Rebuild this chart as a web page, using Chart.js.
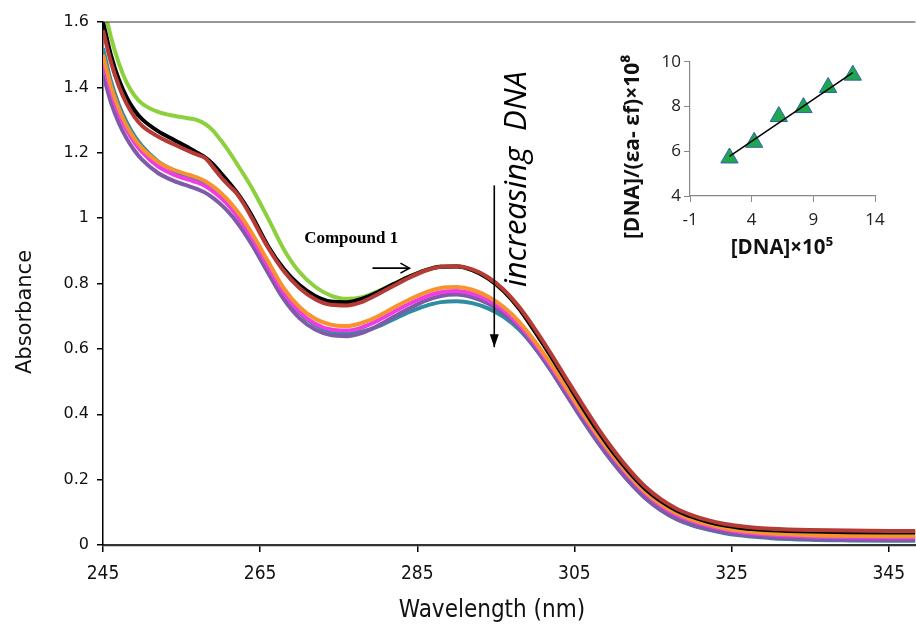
<!DOCTYPE html>
<html><head><meta charset="utf-8">
<script src="https://cdn.jsdelivr.net/npm/chart.js@4.4.0/dist/chart.umd.min.js"></script>
<style>
html,body{margin:0;padding:0;background:#fff;}
#wrap{position:relative;width:916px;height:624px;overflow:hidden;background:#fff;}
#main{position:absolute;left:0;top:0;}
#inset{position:absolute;left:600px;top:30px;}
</style></head><body>
<div id="wrap"><canvas id="main" width="916" height="624"></canvas><canvas id="inset" width="300" height="240"></canvas></div>
<script>
// ---------- DATA ----------
const wavelengths = [245,246,247,248,249,250,252,254,256,257,258,259,260,261,262,263,264,266,268,270,272,274,276,278,280,282,284,286,288,290,292,294,296,298,300,302,304,306,308,310,312,314,316,318,320,322,324,326,328,330,335,340,345,348.4];

const greenAbs  = [1.660,1.555,1.475,1.415,1.375,1.350,1.325,1.313,1.305,1.300,1.288,1.268,1.238,1.205,1.168,1.130,1.090,1.000,0.905,0.835,0.790,0.763,0.753,0.758,0.776,0.799,0.822,0.841,0.852,0.853,0.841,0.816,0.777,0.722,0.652,0.578,0.500,0.422,0.348,0.281,0.222,0.172,0.134,0.106,0.086,0.071,0.060,0.053,0.048,0.045,0.041,0.039,0.038,0.038];
const blackAbs  = [1.600,1.500,1.425,1.370,1.330,1.302,1.266,1.240,1.214,1.200,1.186,1.165,1.138,1.110,1.080,1.045,1.005,0.915,0.845,0.795,0.762,0.745,0.743,0.754,0.774,0.798,0.821,0.840,0.851,0.852,0.841,0.816,0.777,0.722,0.652,0.578,0.500,0.422,0.348,0.281,0.222,0.172,0.134,0.106,0.086,0.071,0.060,0.053,0.048,0.045,0.041,0.039,0.038,0.038];
const redAbs    = [1.575,1.478,1.405,1.350,1.310,1.282,1.250,1.226,1.204,1.194,1.184,1.156,1.126,1.100,1.076,1.040,0.998,0.910,0.838,0.786,0.752,0.735,0.733,0.744,0.767,0.793,0.818,0.839,0.851,0.853,0.843,0.819,0.781,0.727,0.660,0.586,0.508,0.431,0.357,0.290,0.230,0.179,0.140,0.111,0.091,0.076,0.065,0.058,0.053,0.050,0.046,0.044,0.043,0.043];
const tealAbs   = [1.520,1.420,1.348,1.294,1.252,1.220,1.174,1.146,1.126,1.116,1.104,1.087,1.066,1.041,1.011,0.976,0.937,0.852,0.770,0.710,0.673,0.653,0.647,0.653,0.669,0.691,0.713,0.731,0.743,0.746,0.740,0.724,0.698,0.658,0.602,0.534,0.459,0.384,0.314,0.250,0.193,0.144,0.107,0.079,0.060,0.047,0.037,0.030,0.025,0.021,0.016,0.014,0.013,0.013];
const orangeAbs = [1.500,1.405,1.335,1.283,1.243,1.213,1.172,1.148,1.132,1.124,1.113,1.097,1.077,1.053,1.024,0.990,0.952,0.868,0.786,0.728,0.692,0.674,0.670,0.680,0.700,0.726,0.751,0.772,0.786,0.789,0.781,0.760,0.728,0.682,0.622,0.554,0.480,0.405,0.335,0.271,0.213,0.163,0.125,0.097,0.077,0.063,0.052,0.044,0.039,0.035,0.030,0.028,0.027,0.027];
const pinkAbs   = [1.480,1.388,1.320,1.270,1.231,1.201,1.158,1.133,1.117,1.109,1.098,1.082,1.062,1.038,1.009,0.975,0.937,0.853,0.771,0.713,0.677,0.659,0.656,0.666,0.687,0.713,0.738,0.759,0.773,0.777,0.769,0.749,0.718,0.673,0.615,0.547,0.474,0.400,0.330,0.266,0.208,0.158,0.120,0.092,0.073,0.059,0.048,0.040,0.035,0.031,0.026,0.024,0.023,0.023];
const purpleAbs = [1.440,1.355,1.292,1.244,1.207,1.178,1.138,1.114,1.097,1.089,1.078,1.062,1.042,1.018,0.989,0.955,0.917,0.833,0.752,0.694,0.659,0.642,0.639,0.649,0.671,0.698,0.724,0.747,0.762,0.766,0.758,0.739,0.708,0.664,0.604,0.535,0.459,0.384,0.313,0.249,0.192,0.144,0.107,0.080,0.062,0.049,0.039,0.032,0.027,0.023,0.018,0.016,0.015,0.015];

const xTicks = [245,265,285,305,325,345];
const yTicks = [0,0.2,0.4,0.6,0.8,1,1.2,1.4,1.6];
const yTickLabels = ['0','0.2','0.4','0.6','0.8','1','1.2','1.4','1.6'];

// inset
const insetX = [2.2,4.2,6.2,8.2,10.2,12.2];
const insetY = [5.7,6.4,7.55,7.95,8.85,9.4];
const insetXTicks = [-1,4,9,14];
const insetYTicks = [4,6,8,10];

// ---------- helpers ----------
const toPts = arr => wavelengths.map((w,i)=>({x:w,y:arr[i]}));
const condensed = "'DejaVu Sans Condensed','DejaVu Sans',sans-serif";

const overlay = {
  id:'overlay',
  afterDraw(chart, args, opts){
    const ctx = chart.ctx;
    const sx = chart.scales.x, sy = chart.scales.y;
    const px = p => p.data ? [sx.getPixelForValue(p.x), sy.getPixelForValue(p.y)] : [p.x, p.y];
    if (opts.topBorder){
      const a = chart.chartArea;
      ctx.save(); ctx.strokeStyle=opts.topBorder.color; ctx.lineWidth=opts.topBorder.width;
      ctx.beginPath(); ctx.moveTo(a.left, a.top); ctx.lineTo(a.right, a.top); ctx.stroke(); ctx.restore();
    }
    (opts.arrows||[]).forEach(a=>{
      const [x1,y1] = px(a.from), [x2,y2] = px(a.to);
      ctx.save();
      ctx.strokeStyle='#000'; ctx.fillStyle='#000'; ctx.lineWidth=a.width||1.5;
      ctx.beginPath(); ctx.moveTo(x1,y1); ctx.lineTo(x2,y2); ctx.stroke();
      const ang = Math.atan2(y2-y1,x2-x1), L=a.head||10, W=a.headW||5;
      const bx = x2 - L*Math.cos(ang), by = y2 - L*Math.sin(ang);
      const nx = -Math.sin(ang)*W, ny = Math.cos(ang)*W;
      ctx.beginPath();
      if (a.filled){
        ctx.moveTo(x2,y2); ctx.lineTo(bx+nx,by+ny); ctx.lineTo(bx-nx,by-ny); ctx.closePath(); ctx.fill();
      } else {
        ctx.moveTo(bx+nx,by+ny); ctx.lineTo(x2,y2); ctx.lineTo(bx-nx,by-ny); ctx.stroke();
      }
      ctx.restore();
    });
    (opts.texts||[]).forEach(t=>{
      const [x,y] = px(t);
      ctx.save();
      ctx.font=t.font; ctx.fillStyle=t.color||'#000';
      ctx.textAlign=t.align||'center'; ctx.textBaseline=t.baseline||'middle';
      ctx.translate(x,y); if(t.rot) ctx.rotate(t.rot);
      ctx.fillText(t.text,0,0);
      ctx.restore();
    });
  }
};

const series = [
  {label:'red',    data:redAbs,    color:'#B63B36', order:1},
  {label:'black',  data:blackAbs,  color:'#000000', order:2},
  {label:'green',  data:greenAbs,  color:'#8DD03E', order:3},
  {label:'orange', data:orangeAbs, color:'#F7922F', order:4},
  {label:'pink',   data:pinkAbs,   color:'#F03CE4', order:5},
  {label:'purple', data:purpleAbs, color:'#7E5BA8', order:6},
  {label:'teal',   data:tealAbs,   color:'#2E8DA0', order:7}
];

new Chart(document.getElementById('main'), {
  type:'line',
  data:{datasets: series.map(s=>({label:s.label, data:toPts(s.data), borderColor:s.color, backgroundColor:s.color, order:s.order, borderWidth:4, pointRadius:0, fill:false, cubicInterpolationMode:'monotone'}))},
  options:{
    responsive:false, animation:false, devicePixelRatio:1,
    layout:{padding:{top:22,right:0,left:0,bottom:0}},
    plugins:{legend:{display:false}, tooltip:{enabled:false},
      overlay:{
        topBorder:{color:'#333', width:1.2},
        texts:[
          {data:true, x:270.6, y:0.936, text:'Compound 1', font:"bold 17px 'Liberation Serif','Times New Roman',serif", align:'left'},
          {data:true, x:298.9, y:0.789, text:'increasing  DNA', font:"italic 31px 'Open Sans',sans-serif", align:'left', baseline:'alphabetic', rot:-Math.PI/2},
          {x:26, y:312, text:'Absorbance', font:"21px 'DejaVu Sans',sans-serif", rot:-Math.PI/2, color:'#111'},
          {x:492, y:611, text:'Wavelength (nm)', font:"24px "+condensed, color:'#111'}
        ],
        arrows:[
          {from:{data:true,x:279.3,y:0.847}, to:{data:true,x:284.0,y:0.847}, width:1.6, head:9, headW:5},
          {from:{data:true,x:294.8,y:1.10}, to:{data:true,x:294.8,y:0.605}, width:1.6, head:13, headW:4.5, filled:true}
        ]
      }
    },
    scales:{
      x:{type:'linear', min:245, max:348.4,
        afterBuildTicks:s=>{s.ticks = xTicks.map(v=>({value:v}));},
        afterFit:s=>{s.height=79;},
        grid:{drawOnChartArea:false, drawTicks:true, tickLength:7, color:'#000', lineWidth:1.5},
        border:{display:true, color:'#333', width:2.2},
        ticks:{padding:11, color:'#111', autoSkip:false, maxRotation:0, font:{family:condensed, size:19}},
        title:{display:false}
      },
      y:{type:'linear', min:0, max:1.6,
        afterBuildTicks:s=>{s.ticks = yTicks.map(v=>({value:v}));},
        afterFit:s=>{s.width=103;},
        grid:{drawOnChartArea:false, drawTicks:true, tickLength:6, color:'#000', lineWidth:1.5},
        border:{display:true, color:'#000', width:1.5},
        ticks:{padding:8, color:'#111', autoSkip:false, font:{family:"'DejaVu Sans',sans-serif", size:16},
          callback:(v,i)=>yTickLabels[i]},
        title:{display:false}
      }
    }
  },
  plugins:[overlay]
});

// ---------- inset ----------
const n = insetX.length;
const mx = insetX.reduce((a,b)=>a+b,0)/n, my = insetY.reduce((a,b)=>a+b,0)/n;
let sxy=0, sxx=0;
for(let i=0;i<n;i++){ sxy+=(insetX[i]-mx)*(insetY[i]-my); sxx+=(insetX[i]-mx)**2; }
const slope = sxy/sxx, icpt = my - slope*mx;
const xMin = Math.min(...insetX), xMax = Math.max(...insetX);
const trend = [{x:xMin,y:icpt+slope*xMin},{x:xMax,y:icpt+slope*xMax}];

const insetFont = "'Open Sans',sans-serif";
new Chart(document.getElementById('inset'), {
  type:'scatter',
  data:{datasets:[
    {type:'line', data:trend, borderColor:'#000', borderWidth:1.5, pointRadius:0, order:0},
    {data:insetX.map((x,i)=>({x, y:insetY[i]})), pointStyle:'triangle', pointRadius:10, backgroundColor:'#1FA64E', borderColor:'#2F64AE', borderWidth:1, order:1}
  ]},
  options:{
    responsive:false, animation:false, devicePixelRatio:1,
    layout:{padding:{top:31.7,right:25,left:0,bottom:0}},
    plugins:{legend:{display:false}, tooltip:{enabled:false},
      overlay:{texts:[
        {x:33, y:117, text:'[DNA]/(\u03B5a- \u03B5f)\u00D710\u2078', font:"bold 21px "+insetFont, rot:-Math.PI/2, color:'#111'},
        {x:182, y:218, text:'[DNA]\u00D710\u2075', font:"bold 20.5px "+insetFont, color:'#111'}
      ]}
    },
    scales:{
      x:{type:'linear', min:-1, max:14,
        afterBuildTicks:s=>{s.ticks = insetXTicks.map(v=>({value:v}));},
        afterFit:s=>{s.height=74;},
        grid:{drawOnChartArea:false, drawTicks:true, tickLength:6, color:'#888', lineWidth:1},
        border:{display:true, color:'#888', width:1.2},
        ticks:{padding:8, color:'#222', autoSkip:false, maxRotation:0, font:{family:insetFont, size:17}}
      },
      y:{type:'linear', min:4, max:10,
        afterBuildTicks:s=>{s.ticks = insetYTicks.map(v=>({value:v}));},
        afterFit:s=>{s.width=90;},
        grid:{drawOnChartArea:false, drawTicks:true, tickLength:6, color:'#888', lineWidth:1},
        border:{display:true, color:'#888', width:1.2},
        ticks:{padding:3, color:'#222', autoSkip:false, font:{family:insetFont, size:17}}
      }
    }
  },
  plugins:[overlay]
});
</script>
</body></html>
